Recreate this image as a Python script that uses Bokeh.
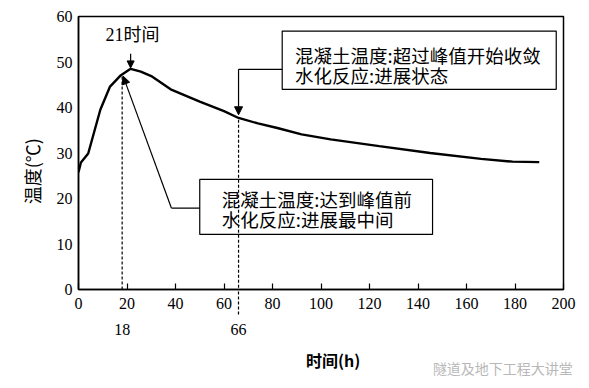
import numpy as np
from bokeh.plotting import figure
from bokeh.models import (Range1d, LinearAxis, FixedTicker, Label, Arrow, NormalHead)
from bokeh.core.properties import value
from bokeh.embed import file_html
from bokeh.resources import INLINE

# ---- data ----
hours = [0, 1, 4, 9, 13, 17.5, 21.5, 25.7, 30, 38, 50, 60, 66, 74, 82, 92, 104, 124, 145, 166, 179, 190]
temps = [25.8, 27.9, 29.9, 39.5, 44.6, 47.1, 48.5, 47.9, 46.9, 44.0, 41.3, 39.2, 37.7, 36.5, 35.5, 34.1, 33.0, 31.5, 30.0, 28.7, 28.1, 28.0]
x_ticks = [0, 20, 40, 60, 80, 100, 120, 140, 160, 180, 200]
y_ticks = [0, 10, 20, 30, 40, 50, 60]
marked_hours = [18, 66]
peak_hour = 21

x_title = "时间(h)"
y_title = "温度(℃)"
watermark = "隧道及地下工程大讲堂"
box1_lines = ["混凝土温度:超过峰值开始收敛", "水化反应:进展状态"]
box2_lines = ["混凝土温度:达到峰值前", "水化反应:进展最中间"]

CJK = "Noto Sans CJK SC"
SERIF = "Liberation Serif"

p = figure(width=581, height=380, output_backend="svg", toolbar_location=None,
           x_range=Range1d(0, 200), y_range=Range1d(0, 60),
           min_border_left=78, min_border_right=18, min_border_top=16, min_border_bottom=89,
           x_axis_type=None, y_axis_type=None)
p.outline_line_color = "black"
p.outline_line_width = 1.5
p.background_fill_color = "white"
p.border_fill_color = "white"


def label_axis(ticks, overrides=None, font=SERIF, size="16px", color="black",
               style="normal", standoff=5, orientation="horizontal"):
    ax = LinearAxis(ticker=FixedTicker(ticks=ticks), major_label_overrides=overrides or {})
    ax.axis_line_color = None
    ax.major_tick_line_color = None
    ax.minor_tick_line_color = None
    ax.major_label_text_font = font
    ax.major_label_text_font_size = size
    ax.major_label_text_font_style = style
    ax.major_label_text_color = color
    ax.major_label_standoff = standoff
    ax.major_label_orientation = orientation
    return ax


# main x axis (inside ticks; dashed minor tick continues the 66 h marker below the axis)
xa = LinearAxis(ticker=FixedTicker(ticks=x_ticks, minor_ticks=[marked_hours[1]]))
xa.major_tick_in = 6
xa.major_tick_out = 0
xa.minor_tick_in = 0
xa.minor_tick_out = 25
xa.minor_tick_line_color = "black"
xa.minor_tick_line_width = 1.2
xa.minor_tick_line_dash = "3 2"
xa.axis_line_color = "black"
xa.axis_line_width = 1.5
xa.major_tick_line_color = "black"
xa.major_tick_line_width = 1.2
xa.major_label_text_font = SERIF
xa.major_label_text_font_size = "16px"
xa.major_label_text_color = "black"
xa.major_label_standoff = -17
p.add_layout(xa, "below")

p.add_layout(label_axis(marked_hours, standoff=6), "below")
p.add_layout(label_axis([105], {105: x_title}, font=CJK, size="16px", style="bold", standoff=4), "below")
p.add_layout(label_axis([175], {175: watermark}, font=CJK, size="14px", color="#b8b8b8", standoff=-23), "below")

ya = LinearAxis(ticker=FixedTicker(ticks=y_ticks))
ya.major_tick_in = 0
ya.major_tick_out = 0
ya.minor_tick_line_color = None
ya.axis_line_color = "black"
ya.axis_line_width = 1.5
ya.major_label_text_font = SERIF
ya.major_label_text_font_size = "16px"
ya.major_label_text_color = "black"
ya.major_label_standoff = 6
p.add_layout(ya, "left")

p.add_layout(label_axis([26], {26: y_title}, font=CJK, size="18px", standoff=2,
                        orientation="vertical"), "left")

p.xgrid.visible = False
p.ygrid.ticker = FixedTicker(ticks=y_ticks)
p.ygrid.grid_line_color = "#333333"
p.ygrid.grid_line_width = 1.2
p.ygrid.grid_line_alpha = 1

# curve
p.line(hours, temps, line_color="black", line_width=2.4)

# dashed verticals
p.add_layout(Arrow(end=None, x_start=marked_hours[0], y_start=0, x_end=marked_hours[0], y_end=47.1,
                   line_dash="3 2", line_color="black", line_width=1.2))
p.add_layout(Arrow(end=None, x_start=marked_hours[1], y_start=37.3, x_end=marked_hours[1], y_end=0,
                   line_dash="3 2", line_color="black", line_width=1.2))

# boxes
p.quad(left=[84, 50], right=[197, 146], bottom=[44, 12.1], top=[56.8, 24.2],
       fill_color="white", line_color="black", line_width=1.2)

p.text(x=[89.3, 89.3], y=[51.5, 47.1], text=box1_lines, text_font=value(CJK),
       text_font_size="18.5px", text_baseline="middle", text_align="left", text_color="black")
p.text(x=[59.1, 59.1], y=[19.9, 15.5], text=box2_lines, text_font=value(CJK),
       text_font_size="18.5px", text_baseline="middle", text_align="left", text_color="black")

# connectors
p.line([84, 66], [48.4, 48.4], line_color="black", line_width=1.2)
p.add_layout(Arrow(end=NormalHead(size=8, fill_color="black", line_color="black"),
                   x_start=66, y_start=48.4, x_end=66, y_end=38.4,
                   line_color="black", line_width=1.2))
p.line([50, 38.3], [17.9, 17.9], line_color="black", line_width=1.2)
p.add_layout(Arrow(end=NormalHead(size=8, fill_color="black", line_color="black"),
                   x_start=38.3, y_start=17.9, x_end=18.4, y_end=46.9,
                   line_color="black", line_width=1.2))
p.add_layout(Arrow(end=NormalHead(size=7, fill_color="black", line_color="black"),
                   x_start=peak_hour + 0.5, y_start=51.8, x_end=peak_hour + 0.5, y_end=48.7,
                   line_color="black", line_width=1.2))

p.add_layout(Label(x=22.3, y=55.9, text=f"{peak_hour}时间", text_font=f"{SERIF}, {CJK}",
                   text_font_size="18px", text_align="center", text_baseline="middle",
                   text_color="black"))

open("out.html", "w").write(file_html(p, INLINE))
